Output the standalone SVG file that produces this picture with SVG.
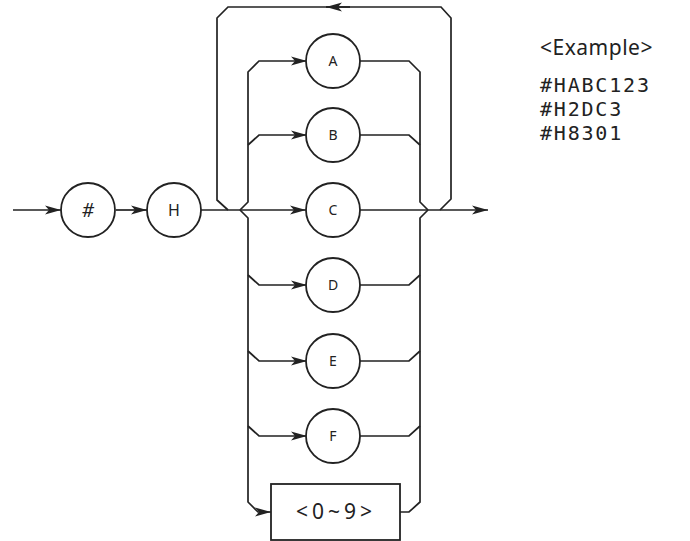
<svg xmlns="http://www.w3.org/2000/svg" width="690" height="541" viewBox="0 0 690 541">
<style>
.ln{fill:none;stroke:#222;stroke-width:1.7;stroke-linejoin:miter}
.nd{fill:#fff;stroke:#222;stroke-width:1.8}
.lb{font-family:"Noto Sans","DejaVu Sans",sans-serif;font-size:14px;fill:#222;text-anchor:middle}
.ex{font-family:"DejaVu Sans Mono",monospace;font-size:20px;fill:#222;letter-spacing:1.8px}
</style>
<defs>
<marker id="ar" markerUnits="userSpaceOnUse" markerWidth="18" markerHeight="12" refX="16" refY="6" orient="auto">
<path d="M0,1.5 L16,6 L0,10.5 L4,6 z" fill="#222"/>
</marker>
</defs>
<rect width="690" height="541" fill="#fff"/>
<g id="connectors">
<path class="ln" d="M13,210 H61" marker-end="url(#ar)"/>
<path class="ln" d="M116,210 H147" marker-end="url(#ar)"/>
<path class="ln" d="M201,210 H306" marker-end="url(#ar)"/>
<path class="ln" d="M360,210 H488" marker-end="url(#ar)"/>
<path class="ln" d="M228,210 L217,200 V18 L228,7 H441 L451,18 V199 L440,210"/>
<path class="ln" d="M350,7 H326" marker-end="url(#ar)"/>
<path class="ln" d="M240,210 L248,202 V72 L259,61 H307" marker-end="url(#ar)"/>
<path class="ln" d="M248,145 L259,135 H307" marker-end="url(#ar)"/>
<path class="ln" d="M240,210 L248,218 V502 L258,512 H271" marker-end="url(#ar)"/>
<path class="ln" d="M248,275 L259,285 H307" marker-end="url(#ar)"/>
<path class="ln" d="M248,351 L259,361 H307" marker-end="url(#ar)"/>
<path class="ln" d="M248,426 L259,436 H307" marker-end="url(#ar)"/>
<path class="ln" d="M360,61 H409 L420,72 V202 L428,210"/>
<path class="ln" d="M360,135 H409 L420,145"/>
<path class="ln" d="M360,285 H409 L420,275"/>
<path class="ln" d="M360,361 H409 L420,351"/>
<path class="ln" d="M360,436 H409 L420,426"/>
<path class="ln" d="M400,512 H409 L420,502 V218 L428,210"/>
</g>
<g id="n-hash"><circle class="nd" cx="88" cy="210" r="27"/><text class="lb" x="88" y="217" style="font-size:19px;font-style:italic">#</text></g>
<g id="n-H"><circle class="nd" cx="174" cy="210" r="27"/><text class="lb" x="174" y="216" style="font-size:16px">H</text></g>
<g id="n-A"><circle class="nd" cx="333" cy="61" r="27"/><text class="lb" x="333" y="66">A</text></g>
<g id="n-B"><circle class="nd" cx="333" cy="135" r="27"/><text class="lb" x="333" y="140">B</text></g>
<g id="n-C"><circle class="nd" cx="333" cy="210" r="27"/><text class="lb" x="333" y="215">C</text></g>
<g id="n-D"><circle class="nd" cx="333" cy="285" r="27"/><text class="lb" x="333" y="290">D</text></g>
<g id="n-E"><circle class="nd" cx="333" cy="361" r="27"/><text class="lb" x="333" y="366">E</text></g>
<g id="n-F"><circle class="nd" cx="333" cy="436" r="27"/><text class="lb" x="333" y="441">F</text></g>
<g id="n-digits"><rect class="nd" x="271" y="484" width="129" height="56"/><text class="lb" x="336" y="519" style="font-size:21px;letter-spacing:4px">&lt;0~9&gt;</text></g>
<g id="example">
<text x="540" y="55" font-family="'Noto Sans',sans-serif" font-size="21" fill="#222" letter-spacing="0.5">&lt;Example&gt;</text>
<text class="ex" x="540" y="92">#HABC123</text>
<text class="ex" x="540" y="116">#H2DC3</text>
<text class="ex" x="540" y="140">#H8301</text>
</g>
</svg>
